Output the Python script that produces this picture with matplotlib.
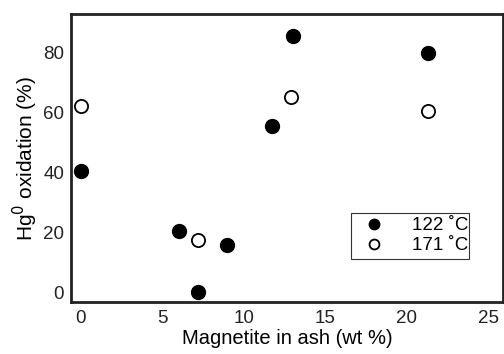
import matplotlib
matplotlib.use("Agg")
import matplotlib.pyplot as plt

# Magnetite content (wt %) vs Hg0 oxidation (%)
mag_122 = [0.0, 6.0, 7.2, 9.0, 11.7, 13.0, 21.3]
ox_122 = [40.5, 20.4, 0.0, 15.7, 55.5, 85.6, 80.0]

mag_171 = [0.0, 7.2, 12.9, 21.3]
ox_171 = [62.2, 17.4, 65.2, 60.5]

xticks = [0, 5, 10, 15, 20, 25]
yticks = [0, 20, 40, 60, 80]

plt.rcParams['font.family'] = ['Liberation Sans', 'DejaVu Sans']

fig = plt.figure(figsize=(5.04, 3.54), dpi=100)
ax = fig.add_axes([71 / 504, 1 - 302 / 354, 432 / 504, 288 / 354])

ax.plot(mag_122, ox_122, 'o', ms=10, mfc='black', mec='black',
        label='122 ˚C')
ax.plot(mag_171, ox_171, 'o', ms=9.5, mfc='white', mec='black', mew=1.3,
        label='171 ˚C')

ax.set_xlim(-0.6, 25.9)
ax.set_ylim(-3.3, 93)
ax.set_xticks(xticks)
ax.set_yticks(yticks)
ax.tick_params(length=0, labelsize=13.5, colors='#222222', pad=5)
ax.tick_params(axis='x', pad=6)

for sp in ax.spines.values():
    sp.set_linewidth(2)
    sp.set_color('#222222')

ax.set_xlabel('Magnetite in ash (wt %)', fontsize=14.5, labelpad=1)
ax.set_ylabel('Hg$^0$ oxidation (%)', fontsize=15, labelpad=2)

leg = ax.legend(loc='lower left', bbox_to_anchor=(280 / 432, 43 / 288, 118 / 432, 54 / 288),
                mode='expand', fontsize=13.5, markerscale=0.75, handlelength=2.0,
                handletextpad=1.0, borderpad=0.25, labelspacing=0.15,
                fancybox=False, framealpha=1, borderaxespad=0)
leg.get_frame().set_edgecolor('#333333')
leg.get_frame().set_linewidth(0.8)

fig.savefig('out.png', dpi=100)
